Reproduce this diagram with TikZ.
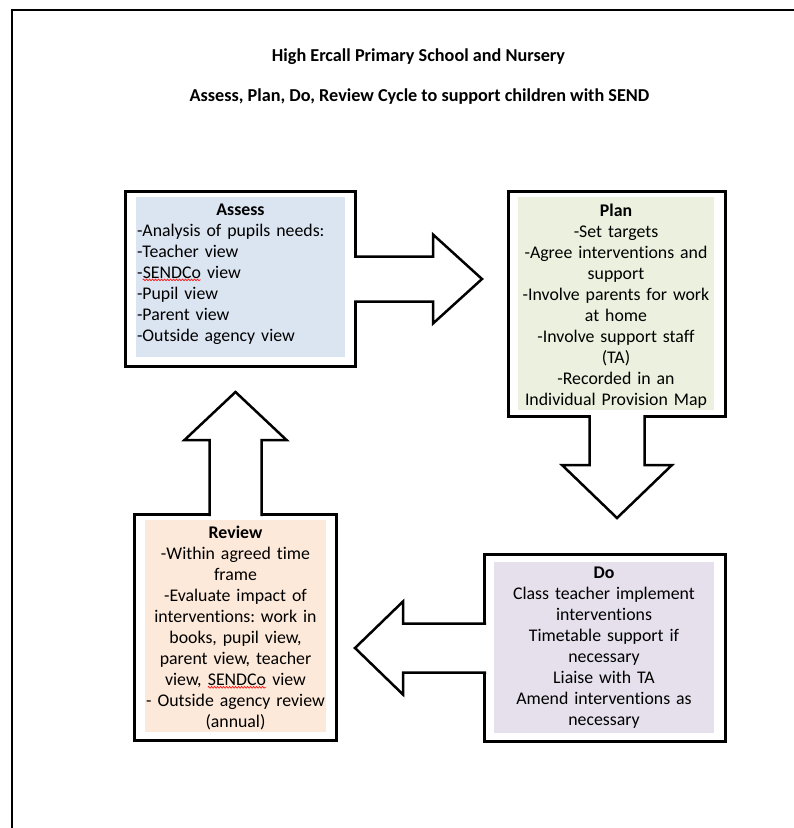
\documentclass[tikz,border=0pt]{standalone}
\usepackage{fontspec}
\setmainfont{Carlito}[Ligatures=NoCommon]
\usetikzlibrary{calc, decorations.pathmorphing}
\frenchspacing

\definecolor{assessblue}{HTML}{DBE5F1}
\definecolor{plangreen}{HTML}{EBF1DE}
\definecolor{dolilac}{HTML}{E5E0EC}
\definecolor{reviewpeach}{HTML}{FDE9D9}

% soulignement ondule rouge (correcteur)
\newcommand{\spellwave}[1]{\tikz[baseline=(word.base), x=1pt, y=1pt]{%
  \node[inner sep=0pt, outer sep=0pt, anchor=base] (word) at (0,0) {#1};
  \draw[red, line width=0.6pt, decorate, decoration={zigzag, amplitude=0.9pt, segment length=3pt}]
    ([yshift=-1.5pt]word.south west) -- ([yshift=-1.5pt]word.south east);}}

\tikzset{
  stagebox/.style={draw=black, line width=3pt, fill=white, inner sep=0pt, outer sep=0pt},
  stagefill/.style={draw=none, inner sep=0pt, outer sep=0pt},
  stagetext/.style={inner sep=0pt, anchor=north, font=\fontsize{17.8}{21}\selectfont},
  blockarrow/.style={draw=black, line width=2.5pt, line join=miter},
  titletext/.style={inner sep=0pt, font=\fontsize{18.2}{21}\selectfont\bfseries},
}

\begin{document}
\begin{tikzpicture}[x=1pt, y=-1pt]
\useasboundingbox (0,0) rectangle (794,828);

% cadre de la page
\draw[line width=1.2pt] (12,828) -- (12,10) -- (794,10);

% titres
\node[titletext] (title) at (418.5,57) {High Ercall Primary School and Nursery};
\node[titletext] (subtitle) at (419.5,97) {Assess, Plan, Do, Review Cycle to support children with SEND};

% Assess
\node[stagebox, minimum width=230pt, minimum height=175pt] (assess) at (240.5,279) {};
\node[stagefill, fill=assessblue, minimum width=209pt, minimum height=160pt] (assessbg) at (240.5,277) {};
\node[stagetext, text width=207pt, align=left] (assesstext) at ([yshift=-6.5pt]assessbg.north)
  {\makebox[207pt]{\textbf{Assess}}\\-Analysis of pupils needs:\\-Teacher view\\-\spellwave{SENDCo} view\\-Pupil view\\-Parent view\\-Outside agency view};

% Plan
\node[stagebox, minimum width=217pt, minimum height=225pt] (plan) at (617,304) {};
\node[stagefill, fill=plangreen, minimum width=196pt, minimum height=213pt] (planbg) at (616,303.5) {};
\node[stagetext, text width=196pt, align=center] (plantext) at ([yshift=-6.5pt]planbg.north)
  {\textbf{Plan}\\-Set targets\\-Agree interventions and\\support\\-Involve parents for work\\at home\\-Involve support staff\\(TA)\\-Recorded in an\\Individual Provision Map};

% Do
\node[stagebox, minimum width=241pt, minimum height=187pt] (do) at (605,648) {};
\node[stagefill, fill=dolilac, minimum width=220pt, minimum height=171pt] (dobg) at (604,647.5) {};
\node[stagetext, text width=220pt, align=center] (dotext) at ([yshift=-5pt]dobg.north)
  {\textbf{Do}\\Class teacher implement\\interventions\\Timetable support if\\necessary\\Liaise with TA\\Amend interventions as\\necessary};

% Review
\node[stagebox, minimum width=202pt, minimum height=226pt] (review) at (235.5,627.5) {};
\node[stagefill, fill=reviewpeach, minimum width=181pt, minimum height=212pt] (reviewbg) at (235.5,626) {};
\node[stagetext, text width=181pt, align=center] (reviewtext) at ([yshift=-6pt]reviewbg.north)
  {\textbf{Review}\\-Within agreed time\\frame\\-Evaluate impact of\\interventions: work in\\books, pupil view,\\parent view, teacher\\view, \spellwave{SENDCo} view\\- Outside agency review\\(annual)};

% fleche Assess -> Plan
\begin{scope}[shift={(assess.east)}]
  \fill[white] (-2,-22.5) -- (77.5,-22.5) -- (77.5,-44.5) -- (126.5,0) -- (77.5,44.5) -- (77.5,22.5) -- (-2,22.5) -- cycle;
  \draw[blockarrow] (-1.5,-22.5) -- (77.5,-22.5) -- (77.5,-44.5) -- (126.5,0) -- (77.5,44.5) -- (77.5,22.5) -- (-1.5,22.5);
\end{scope}

% fleche Plan -> Do
\begin{scope}[shift={(plan.south)}, rotate=-90]
  \fill[white] (-2,-27.5) -- (48.5,-27.5) -- (48.5,-55) -- (101.5,0) -- (48.5,55) -- (48.5,27.5) -- (-2,27.5) -- cycle;
  \draw[blockarrow] (-1.5,-27.5) -- (48.5,-27.5) -- (48.5,-55) -- (101.5,0) -- (48.5,55) -- (48.5,27.5) -- (-1.5,27.5);
\end{scope}

% fleche Do -> Review
\begin{scope}[shift={(do.west)}, rotate=180]
  \fill[white] (-2,-24.5) -- (81.5,-24.5) -- (81.5,-46.5) -- (129.5,0) -- (81.5,46.5) -- (81.5,24.5) -- (-2,24.5) -- cycle;
  \draw[blockarrow] (-1.5,-24.5) -- (81.5,-24.5) -- (81.5,-46.5) -- (129.5,0) -- (81.5,46.5) -- (81.5,24.5) -- (-1.5,24.5);
\end{scope}

% fleche Review -> Assess
\begin{scope}[shift={(review.north)}, rotate=90]
  \fill[white] (-2,-26) -- (74.5,-26) -- (74.5,-51) -- (122.5,0) -- (74.5,51) -- (74.5,26) -- (-2,26) -- cycle;
  \draw[blockarrow] (-1.5,-26) -- (74.5,-26) -- (74.5,-51) -- (122.5,0) -- (74.5,51) -- (74.5,26) -- (-1.5,26);
\end{scope}

\end{tikzpicture}
\end{document}
